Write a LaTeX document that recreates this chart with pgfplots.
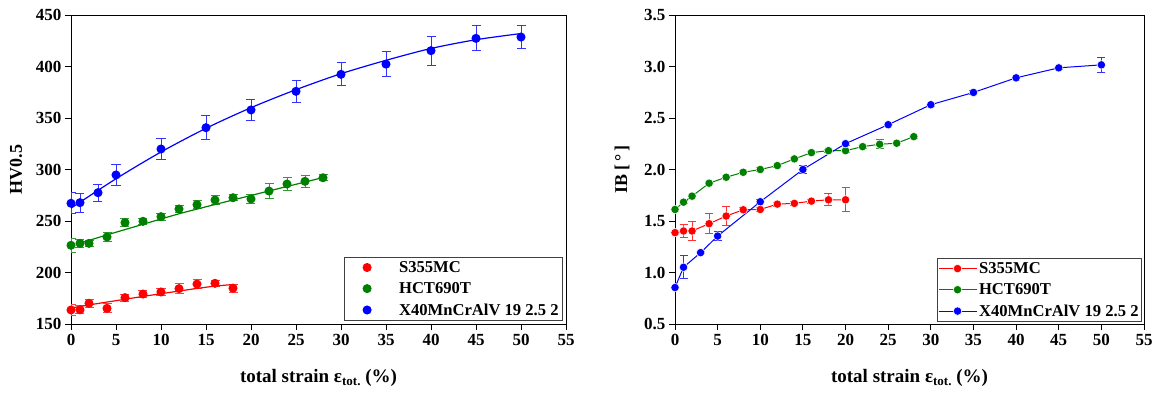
\documentclass[border=0pt]{standalone}
\usepackage{pgfplots}
\pgfplotsset{compat=1.18}
\usepackage{fontspec}
\setmainfont{Liberation Serif}
\definecolor{cR}{RGB}{255,0,0}
\definecolor{cG}{RGB}{0,128,0}
\definecolor{cB}{RGB}{0,0,255}
\pgfplotsset{
  mystyle/.style={
    scale only axis,
    xmin=0, xmax=55, xtick={0,5,...,55},
    tick align=outside, tick pos=left,
    major tick length=6pt,
    axis line style={line width=0.9pt},
    tick style={line width=0.9pt, black},
    /pgf/number format/assume math mode=true,
    tick label style={font=\bfseries\fontsize{17}{17}\selectfont},
    xticklabel style={yshift=-1pt},
    label style={font=\bfseries\fontsize{18}{18}\selectfont},
    xlabel style={font=\bfseries\fontsize{19}{19}\selectfont, at={(axis description cs:0.5,-0.188)}, anchor=base},
    legend cell align=left,
    legend style={font=\bfseries\fontsize{16.6}{19}\selectfont, draw=black!75, line width=0.8pt, inner sep=2pt, row sep=4.6pt},
    every axis plot/.append style={line width=1.2pt},
    error bars/error bar style={line width=1pt},
  }
}
\begin{document}
\begin{tikzpicture}
\useasboundingbox (0pt,0pt) rectangle (1152pt,392pt);
% ---------------- left -----------------
\begin{axis}[mystyle,
  at={(71pt,68pt)}, anchor=south west,
  width=495pt, height=309pt,
  ymin=150, ymax=450, ytick={150,200,...,450},
  xlabel={total strain ε\raisebox{-0.35ex}{\fontsize{13}{13}\selectfont tot.} (\%)},
  ylabel={HV0.5},
  ylabel style={at={(axis description cs:-0.111,0.5)}, anchor=center},
  legend style={at={(0.994,0.01)}, anchor=south east},
  legend image code/.code={\path[draw=none, fill=none] (0pt,-2pt) -- (51pt,2pt);\draw[#1] plot coordinates {(21pt,0pt)};},
]
\addplot[only marks, mark=*, mark size=3.9pt, cR, mark options={cR},
  error bars/.cd, y dir=both, y explicit, error mark options={rotate=90, mark size=4.5pt, line width=1pt, cR!75}, error bar style={cR!75}]
  coordinates {
  (0,163.6) +- (0,5) (1,163.8) +- (0,4) (2,170.1) +- (0,4) (4,165.2) +- (0,4.5)
  (6,175.6) +- (0,3.5) (8,179.1) +- (0,3.5) (10,181.1) +- (0,3.5) (12,184.3) +- (0,5)
  (14,188.8) +- (0,4) (16,189.5) +- (0,3) (18,184.8) +- (0,4)};
\addlegendentry{S355MC}
\addplot[only marks, mark=*, mark size=3.9pt, cG, mark options={cG},
  error bars/.cd, y dir=both, y explicit, error mark options={rotate=90, mark size=4.5pt, line width=1pt, cG!80}, error bar style={cG!80}]
  coordinates {
  (0,226.4) +- (0,6.5) (1,228.3) +- (0,4) (2,228.3) +- (0,3) (4,234.5) +- (0,4)
  (6,248.4) +- (0,4) (8,249.7) +- (0,3) (10,254.2) +- (0,3.5) (12,261.7) +- (0,3)
  (14,265.8) +- (0,4) (16,270.4) +- (0,4) (18,272.6) +- (0,3) (20,271.4) +- (0,4)
  (22,279.1) +- (0,7.5) (24,285.9) +- (0,6) (26,288.5) +- (0,6) (28,292.0) +- (0,3)};
\addlegendentry{HCT690T}
\addplot[only marks, mark=*, mark size=3.9pt, cB, mark options={cB},
  error bars/.cd, y dir=both, y explicit, error mark options={rotate=90, mark size=4.5pt, line width=1pt, cB!80}, error bar style={cB!80}]
  coordinates {
  (0,267.2) +- (0,10) (1,267.8) +- (0,9.2) (3,277.5) +- (0,8.3) (5,294.7) +- (0,10)
  (10,319.9) +- (0,10.2) (15,340.6) +- (0,11.5) (20,357.8) +- (0,10.4) (25,375.9) +- (0,10.7)
  (30,392.4) +- (0,11.2) (35,402.3) +- (0,11.8) (40,415.4) +- (0,14.2) (45,427.3) +- (0,12.1)
  (50,428.6) +- (0,11.3)};
\addlegendentry{X40MnCrAlV 19 2.5 2}
% fit curves
\addplot[cR, no marks, smooth, forget plot] coordinates {
  (0,165.5) (2,168.5) (4,171.3) (6,174) (8,176.8) (10,179.4) (12,182) (14,184.5) (16,186.8) (18,188.3)};
\addplot[cG, no marks, smooth, forget plot] coordinates {
  (1,228.5) (4,236.5) (8,246.8) (12,257) (16,266) (20,274.8) (24,283.5) (28,292.2)};
\addplot[cB, no marks, smooth, forget plot] coordinates {
  (0,262.5) (5,291) (10,317) (15,340) (20,360) (25,377.5) (30,393) (35,406) (40,417.5) (45,426) (50,432)};
\end{axis}
% ---------------- right -----------------
\begin{axis}[mystyle,
  at={(675pt,68pt)}, anchor=south west,
  width=469pt, height=309pt,
  ymin=0.5, ymax=3.5, ytick={0.5,1.0,...,3.5},
  yticklabel style={/pgf/number format/.cd, fixed, fixed zerofill, precision=1},
  xlabel={total strain ε\raisebox{-0.35ex}{\fontsize{13}{13}\selectfont tot.} (\%)},
  ylabel={IB [\,°\,]},
  ylabel style={at={(axis description cs:-0.113,0.5)}, anchor=center},
  legend style={at={(0.9957,0.0065)}, anchor=south east, inner xsep=1pt},
  legend image code/.code={\draw[mark repeat=2, mark phase=2, #1] plot coordinates {(0pt,0pt) (19pt,0pt) (38pt,0pt)};},
  every axis plot/.append style={line width=1pt},
]
\addplot[cR, mark=*, mark size=4.2pt, mark options={fill=cR, draw=white, line width=0.5pt},
  error bars/.cd, y dir=both, y explicit, error mark options={rotate=90, mark size=4pt, line width=1pt, cR!80}, error bar style={cR!80}]
  coordinates {
  (0,1.387) +- (0,0.02) (1,1.403) +- (0,0.065) (2,1.403) +- (0,0.09) (4,1.474) +- (0,0.10)
  (6,1.548) +- (0,0.09) (8,1.609) +- (0,0.02) (10,1.612) +- (0,0.02) (12,1.664) +- (0,0.02)
  (14,1.671) +- (0,0.02) (16,1.693) +- (0,0.02) (18,1.706) +- (0,0.058) (20,1.706) +- (0,0.116)};
\addlegendentry{S355MC}
\addplot[cG, mark=*, mark size=4.2pt, mark options={fill=cG, draw=white, line width=0.5pt},
  error bars/.cd, y dir=both, y explicit, error mark options={rotate=90, mark size=4pt, line width=1pt, cG!80}, error bar style={cG!80}]
  coordinates {
  (0,1.612) +- (0,0.015) (1,1.683) +- (0,0.015) (2,1.741) +- (0,0.015) (4,1.867) +- (0,0.015)
  (6,1.925) +- (0,0.015) (8,1.973) +- (0,0.015) (10,2.0) +- (0,0.015) (12,2.038) +- (0,0.015)
  (14,2.103) +- (0,0.015) (16,2.164) +- (0,0.015) (18,2.183) +- (0,0.015) (20,2.183) +- (0,0.015)
  (22,2.222) +- (0,0.015) (24,2.245) +- (0,0.044) (26,2.255) +- (0,0.015) (28,2.319) +- (0,0.015)};
\addlegendentry{HCT690T}
\addplot[cB, mark=*, mark size=4.2pt, mark options={fill=cB, draw=white, line width=0.5pt},
  error bars/.cd, y dir=both, y explicit, error mark options={rotate=90, mark size=4pt, line width=1pt, cB!80}, error bar style={cB!80}]
  coordinates {
  (0,0.854) +- (0,0.01) (1,1.051) +- (0,0.113) (3,1.193) +- (0,0.01) (5,1.354) +- (0,0.045)
  (10,1.687) +- (0,0.02) (15,2.0) +- (0,0.04) (20,2.251) +- (0,0.015) (25,2.435) +- (0,0.015)
  (30,2.629) +- (0,0.015) (35,2.748) +- (0,0.015) (40,2.890) +- (0,0.015) (45,2.987) +- (0,0.015)
  (50,3.016) +- (0,0.07)};
\addlegendentry{X40MnCrAlV 19 2.5 2}
\end{axis}
\end{tikzpicture}
\end{document}
